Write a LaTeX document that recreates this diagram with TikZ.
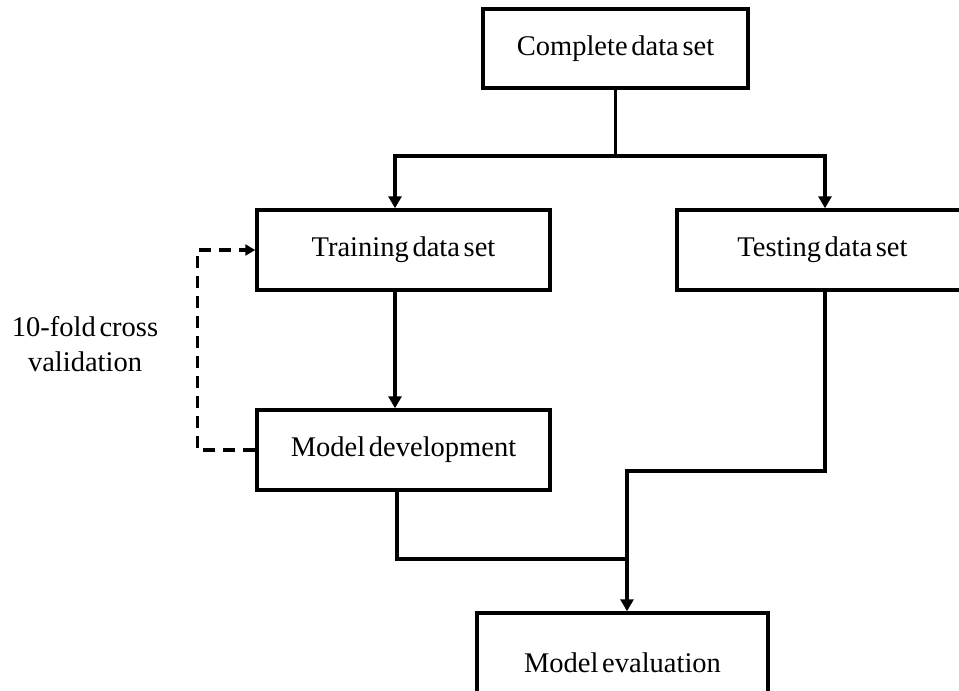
\documentclass[tikz,border=0pt]{standalone}
\usepackage{fontspec}
\setmainfont{Liberation Serif}
\usetikzlibrary{arrows.meta}
\newcommand{\diagfont}{\fontsize{28.5}{35}\selectfont\spaceskip=0.13em plus 0.02em}
\begin{document}
\begin{tikzpicture}[x=1pt,y=-1pt,
  box/.style={draw=black, line width=3.5pt, fill=white, inner sep=0pt,
    font=\diagfont},
  conn/.style={draw=black, line width=3.5pt},
  arr/.style={conn, -{Triangle[length=12pt,width=13pt]}},
  dashconn/.style={draw=black, line width=3.2pt, dash pattern=on 12pt off 8pt,
    -{Triangle[length=10pt,width=11pt]}},
  lbl/.style={font=\diagfont, align=center, inner sep=0pt}
]
\useasboundingbox[fill=white] (0,0) rectangle (959,691);
\node[box, minimum width=265pt, minimum height=79pt] (complete) at (615.5,48.5) {Complete data set};
\node[box, minimum width=293pt, minimum height=80pt] (train) at (403.5,250) {Training data set};
\node[box, minimum width=291pt, minimum height=80pt] (test) at (822.5,250) {Testing data set};
\node[box, minimum width=293pt, minimum height=80pt] (dev) at (403.5,450) {Model development};
\node[box, minimum width=291pt, minimum height=100pt] (eval) at (622.5,663) {Model evaluation};
\node[lbl] (cv) at (85,344) {10-fold cross\\validation};

\coordinate (split) at (615.5,156);
\coordinate (j1) at (627,471);
\coordinate (join) at (627,559);

\draw[conn] (complete.south) -- (split);
\draw[arr] (split) -| ([xshift=-8.5pt]train.north);
\draw[arr] (split) -| ([xshift=2.5pt]test.north);
\draw[arr] ([xshift=-8.5pt]train.south) -- ([xshift=-8.5pt]dev.north);
\draw[conn] ([xshift=2.5pt]test.south) |- (j1) -- (join);
\draw[conn] ([xshift=-6.5pt]dev.south) |- (join);
\draw[arr] (join) -- ([xshift=4.5pt]eval.north);
\draw[dashconn] (dev.west) -- ++(-58,0) |- (train.west);
\end{tikzpicture}
\end{document}
